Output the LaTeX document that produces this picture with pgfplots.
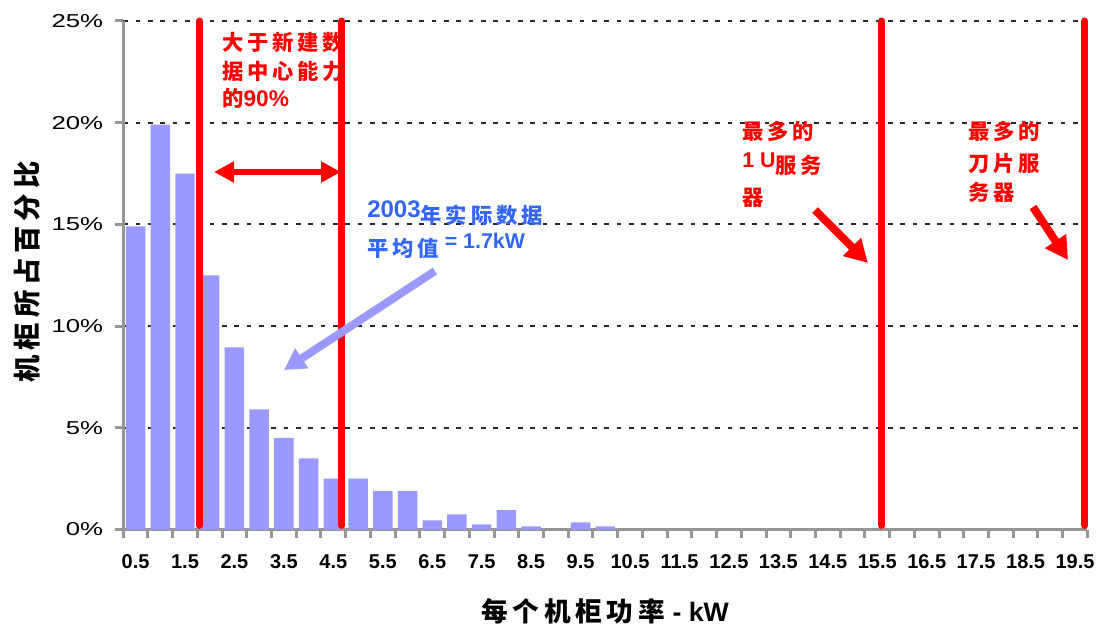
\documentclass[border=0pt]{standalone}
\usepackage{pgfplots}
\pgfplotsset{compat=1.18}
\usepackage{fontspec}
\setmainfont{Liberation Sans}
\newfontfamily\cjk{Noto Sans CJK SC}[LetterSpace=18]
\usetikzlibrary{arrows.meta}
\definecolor{barblue}{RGB}{153,153,255}
\definecolor{txtblue}{RGB}{51,102,255}
\definecolor{axgray}{RGB}{150,150,150}
\definecolor{gridc}{RGB}{40,40,40}
\newcommand\ylab[1]{\scalebox{1.38}[1]{#1}}
\begin{document}
\begin{tikzpicture}
\begin{axis}[
  at={(92.4pt,72.375pt)}, anchor=south west,
  scale only axis, width=723.15pt, height=381.375pt,
  xmin=0.25, xmax=19.75, ymin=0, ymax=25,
  clip=false,
  axis x line=bottom, axis y line=left,
  axis line style={-, draw=axgray, line width=2.25pt},
  tick align=outside,
  major tick length=6.5pt,
  every tick/.style={draw=axgray, line width=2.25pt},
  ytick={0,5,10,15,20,25},
  yticklabels={\ylab{0\%},\ylab{5\%},\ylab{10\%},\ylab{15\%},\ylab{20\%},\ylab{25\%}},
  y tick label style={font=\fontsize{14}{14}\selectfont, xshift=-5pt},
  xtick={0.25,0.75,...,19.8},
  xticklabels={},
  extra x ticks={0.5,1.5,2.5,3.5,4.5,5.5,6.5,7.5,8.5,9.5,10.5,11.5,12.5,13.5,14.5,15.5,16.5,17.5,18.5,19.5},
  extra x tick labels={0.5,1.5,2.5,3.5,4.5,5.5,6.5,7.5,8.5,9.5,10.5,11.5,12.5,13.5,14.5,15.5,16.5,17.5,18.5,19.5},
  extra x tick style={major tick length=0pt},
  x tick label style={font=\bfseries\fontsize{15}{15}\selectfont, yshift=-15.5pt},
  ymajorgrids=true,
  major grid style={draw=gridc, line width=1.5pt, dash pattern=on 3.5pt off 5.75pt},
]
\addplot[ybar, bar width=14.6pt, fill=barblue, draw=none, forget plot] coordinates {
  (0.5,14.9) (1.0,19.9) (1.5,17.5) (2.0,12.5) (2.5,8.95) (3.0,5.9)
  (3.5,4.5) (4.0,3.5) (4.5,2.5) (5.0,2.5) (5.5,1.9) (6.0,1.9)
  (6.5,0.45) (7.0,0.75) (7.5,0.25) (8.0,0.95) (8.5,0.15)
  (9.5,0.35) (10.0,0.15)
};
\addplot[red, line width=5.25pt, line cap=round, forget plot] coordinates {(1.80,0.2) (1.80,25)};
\addplot[red, line width=5.25pt, line cap=round, forget plot] coordinates {(4.67,0.2) (4.67,25)};
\addplot[red, line width=5.25pt, line cap=round, forget plot] coordinates {(15.59,0.2) (15.59,25)};
\addplot[red, line width=5.25pt, line cap=round, forget plot] coordinates {(19.70,0.2) (19.70,25)};
\end{axis}
\begin{scope}[x=0.75pt,y=-0.75pt,yshift=469.5pt]
  % axis labels
  \node[anchor=base, inner sep=0, font=\bfseries\fontsize{20}{20}\selectfont] at (605,621) {{\cjk 每个机柜功率} - kW};
  \node[rotate=90, anchor=center, inner sep=0, font=\bfseries\cjk\fontsize{20.5}{20.5}\selectfont] at (27,272) {机柜所占百分比};
  % red annotations
  \begin{scope}[every node/.style={anchor=base west, inner sep=0, text=red, font=\bfseries\fontsize{16}{16}\selectfont}]
    \node at (222,51) {\cjk 大于新建数};
    \node at (222,80) {\cjk 据中心能力};
    \node at (222,107) {{\cjk 的}{\fontsize{17}{17}\selectfont 90\%}};
    \node at (742,140) {\cjk 最多的};
    \node at (742,167) {1 U\raisebox{-5pt}{\cjk 服务}};
    \node at (742,205) {\cjk 器};
    \node at (968,140) {\cjk 最多的};
    \node at (968,171) {\cjk 刀片服};
    \node at (968,200) {\cjk 务器};
  \end{scope}
  \begin{scope}[every node/.style={anchor=base west, inner sep=0, text=txtblue, font=\bfseries\fontsize{16}{16}\selectfont}]
    \node at (367,217) {{\fontsize{18}{18}\selectfont 2003}\raisebox{-4.5pt}{\cjk 年实际数据}};
    \node at (367,248) {\raisebox{-6pt}{\cjk 平均值} = 1.7kW};
  \end{scope}
  % arrows
  \draw[red, line width=4.5pt, {Triangle[length=15pt,width=15pt]}-{Triangle[length=15pt,width=15pt]}] (214,172) -- (341,172);
  \draw[barblue, line width=6pt, -{Triangle[length=16pt,width=17pt]}] (435,271) -- (284,370);
  \draw[red, line width=6pt, -{Triangle[length=17pt,width=18pt]}] (815,210) -- (868,263);
  \draw[red, line width=6pt, -{Triangle[length=17pt,width=18pt]}] (1033,207) -- (1068,260);
\end{scope}
\pgfresetboundingbox
\path[use as bounding box] (0,0) rectangle (826.5pt,469.5pt);
\end{tikzpicture}
\end{document}
